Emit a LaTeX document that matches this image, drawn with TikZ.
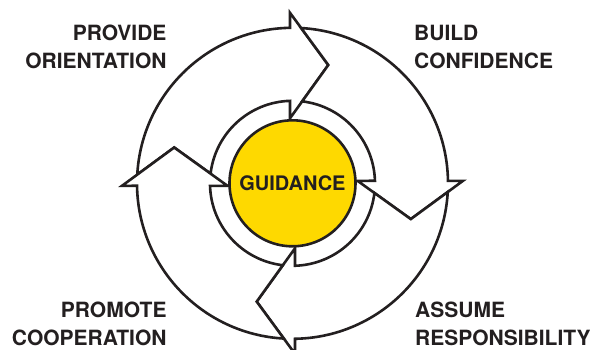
\documentclass[tikz,border=0pt]{standalone}
\usepackage{fontspec}
\setmainfont{TeX Gyre Heros}
\usepackage{tikz}
\usetikzlibrary{positioning}
\definecolor{guidanceYellow}{RGB}{254,217,0}
\definecolor{inkBlack}{RGB}{35,31,32}
\newcommand\outerRadius{155.5}
\newcommand\innerRadius{82.5}
\newcommand\hubDiameter{126pt}
\tikzset{
		ringArrow/.style = {fill=white, draw=inkBlack, line width=2.6pt, line join=miter},
		hub/.style =       {circle, fill=guidanceYellow, draw=inkBlack, line width=2.6pt,
		                    minimum size=\hubDiameter, inner sep=0pt, text=inkBlack,
		                    font=\bfseries\fontsize{20}{24}\selectfont},
		stepLabel/.style = {inner sep=0pt, text=inkBlack, font=\bfseries\fontsize{21}{28}\selectfont}
}
\newcommand{\drawRingArrow}[1]{
    % One arrow: tail fits the head before it, head reaches over both rings
    \begin{scope}[rotate=#1]
      \draw[ringArrow] (176.8:\outerRadius)
          arc[start angle=176.8, end angle=90.92, radius=\outerRadius]
          -- (-2.5,170.5) -- (35.8,118.3) -- (-2.5,65)
          -- (91.74:\innerRadius)
          arc[start angle=91.74, end angle=173.27, radius=\innerRadius]
          -- (-118.3,35.8) -- cycle;
    \end{scope}
}

\begin{document}
\begin{tikzpicture}[x=1pt, y=1pt]
  \useasboundingbox (-292.5,-165.7) rectangle (297.5,183.3);

  % Draw the four arrows of the cycle
  \foreach \a in {0,-90,-180,-270}
    {\drawRingArrow{\a}}

  % Draw the hub
  \node [hub] (guidance) at (0,0) {\raisebox{1.2pt}{GUIDANCE}};

  % Draw the step labels
  \node [stepLabel, anchor=north east, align=right] (orientation) at (-125.8,159) {PROVIDE\\ORIENTATION};
  \node [stepLabel, anchor=north west, align=left] (confidence) at (121.5,158.5) {BUILD\\CONFIDENCE};
  \node [stepLabel, anchor=north east, align=right] (cooperation) at (-125.8,-118.5) {PROMOTE\\COOPERATION};
  \node [stepLabel, anchor=north west, align=left] (responsibility) at (122.5,-118.5) {ASSUME\\RESPONSIBILITY};
\end{tikzpicture}
\end{document}
